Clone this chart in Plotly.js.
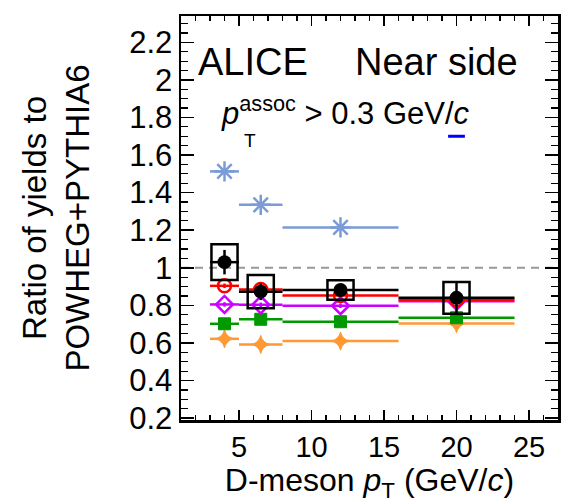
<!DOCTYPE html>
<html>
<head>
<meta charset="utf-8">
<script src="https://cdn.plot.ly/plotly-3.0.1.min.js"></script>
<style>html,body{margin:0;padding:0;background:#fff;}#chart{width:574px;height:503px;}</style>
</head>
<body>
<div id="chart"></div>
<script>
// D-meson pT bin centres and half-widths (GeV/c)
var ptCentres = [4, 6.5, 12, 20];
var ptHalfWidths = [1, 1.5, 4, 4];

// Data (ALICE) ratio to POWHEG+PYTHIA6
var dataRatio = [1.03, 0.873, 0.882, 0.84];
var dataStat = [0.065, 0.045, 0.03, 0.085];
var dataSyst = [0.095, 0.088, 0.052, 0.085];

// Model ratios
var redModel = [0.904, 0.885, 0.852, 0.83];
var magentaModel = [0.805, 0.803, 0.798, 0.822];
var greenModel = [0.702, 0.726, 0.713, 0.734];
var orangeModel = [0.622, 0.592, 0.61, 0.703];
var blueStarPt = [4, 6.5, 12];
var blueStarHalfWidths = [1, 1.5, 4];
var blueStarModel = [1.513, 1.335, 1.215];
var bluePt = [20];
var blueModel = [1.7];

var boxHalfWidth = 0.9;

function modelTrace(x, xe, y, color, symbol, size, lw) {
  return {
    type: 'scatter', mode: 'markers', x: x, y: y,
    error_x: {type: 'data', array: xe, color: color, thickness: 2.5, width: 0},
    error_y: {type: 'data', array: y.map(function(){return 0.012;}), color: color, thickness: 2.5, width: 0},
    marker: {symbol: symbol, size: size, color: color, line: {color: color, width: lw}},
    hoverinfo: 'x+y', showlegend: false
  };
}

var traces = [
  modelTrace(ptCentres, ptHalfWidths, orangeModel, '#ff9933', 'star-diamond', 13, 1),
  modelTrace(ptCentres, ptHalfWidths, greenModel, '#009900', 'square', 12, 1),
  modelTrace(ptCentres, ptHalfWidths, magentaModel, '#cc00ff', 'diamond-open', 13, 2.5),
  modelTrace(ptCentres, ptHalfWidths, redModel, '#ff0000', 'circle-open', 13, 2.5),
  modelTrace(blueStarPt, blueStarHalfWidths, blueStarModel, '#7b9bd6', 'asterisk-open', 17, 2.5),
  {type: 'scatter', mode: 'markers', x: bluePt, y: blueModel,
   marker: {symbol: 'line-ew-open', size: 12, color: '#0000ff', line: {color: '#0000ff', width: 3}},
   showlegend: false, hoverinfo: 'skip'},
  {type: 'scatter', mode: 'markers', x: ptCentres, y: dataRatio,
   error_x: {type: 'data', array: ptHalfWidths, color: '#000', thickness: 2.5, width: 0},
   error_y: {type: 'data', array: dataStat, color: '#000', thickness: 2.5, width: 0},
   marker: {symbol: 'circle', size: 14, color: '#000'},
   showlegend: false}
];

var shapes = [{
  type: 'line', xref: 'paper', x0: 0, x1: 1, yref: 'y', y0: 1, y1: 1,
  line: {color: '#999999', width: 2, dash: '8px,6px'}, layer: 'below'
}];
for (var i = 0; i < ptCentres.length; i++) {
  shapes.push({
    type: 'rect', xref: 'x', yref: 'y',
    x0: ptCentres[i] - boxHalfWidth, x1: ptCentres[i] + boxHalfWidth,
    y0: dataRatio[i] - dataSyst[i], y1: dataRatio[i] + dataSyst[i],
    line: {color: '#000', width: 2.5}, fillcolor: 'rgba(0,0,0,0)', layer: 'above'
  });
}

var font = 'Liberation Sans, Arial, Helvetica, sans-serif';
var layout = {
  width: 574, height: 503,
  margin: {l: 181, r: 16, t: 16, b: 83},
  paper_bgcolor: '#fff', plot_bgcolor: '#fff',
  font: {family: font, color: '#000'},
  xaxis: {
    range: [1, 27], dtick: 5, tick0: 0,
    ticks: 'inside', ticklen: 10, tickwidth: 1.5, tickcolor: '#000',
    minor: {dtick: 1, ticks: 'inside', ticklen: 5, tickwidth: 1.2, tickcolor: '#000'},
    showline: true, linewidth: 2.5, linecolor: '#000', mirror: 'allticks',
    showgrid: false, zeroline: false,
    tickfont: {size: 29, family: font},
    title: {text: 'D-meson <i>p</i><sub>T</sub> (GeV/<i>c</i>)', font: {size: 32, family: font}, standoff: 7}
  },
  yaxis: {
    range: [0.19, 2.34], dtick: 0.2, tick0: 0,
    ticks: 'inside', ticklen: 13, tickwidth: 1.5, tickcolor: '#000',
    minor: {dtick: 0.05, ticks: 'inside', ticklen: 7, tickwidth: 1.2, tickcolor: '#000'},
    showline: true, linewidth: 2.5, linecolor: '#000', mirror: 'allticks',
    showgrid: false, zeroline: false,
    tickfont: {size: 31, family: font},
    title: {text: 'Ratio of yields to<br>POWHEG+PYTHIA6', font: {size: 33, family: font}, standoff: 30}
  },
  shapes: shapes,
  annotations: [
    {xref: 'paper', yref: 'paper', x: 0.04, y: 0.885, xanchor: 'left', yanchor: 'middle',
     text: 'ALICE', showarrow: false, font: {size: 38, family: font}},
    {xref: 'paper', yref: 'paper', x: 0.455, y: 0.885, xanchor: 'left', yanchor: 'middle',
     text: 'Near side', showarrow: false, font: {size: 38, family: font}},
    {xref: 'paper', yref: 'paper', x: 0.1, y: 0.765, xanchor: 'left', yanchor: 'middle',
     text: '<i>p</i><sup>assoc</sup> > 0.3 GeV/<i>c</i>', showarrow: false, font: {size: 31, family: font}},
    {xref: 'paper', yref: 'paper', x: 0.163, y: 0.692, xanchor: 'left', yanchor: 'middle',
     text: 'T', showarrow: false, font: {size: 19, family: font}}
  ]
};

Plotly.newPlot('chart', traces, layout, {displayModeBar: false, staticPlot: true});
</script>
</body>
</html>
